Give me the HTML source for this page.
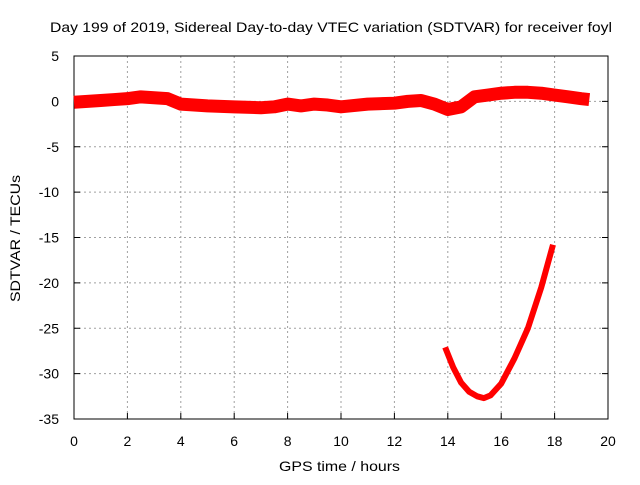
<!DOCTYPE html>
<html><head><meta charset="utf-8"><style>
body{margin:0;background:#fff;font-family:"Liberation Sans",sans-serif}
svg text{font-family:"Liberation Sans",sans-serif;font-size:14px;fill:#000}
</style></head><body>
<svg id="chart" width="640" height="480"></svg>
<script>
const bandTimes=[0,0.5,1,1.5,2,2.5,3,3.5,4,4.5,5,6,7,7.5,8,8.5,9,9.5,10,11,12,12.5,13,13.5,14,14.5,15,15.5,16,16.5,17,17.5,18,18.5,19,19.3];
const bandValues=[-0.1,0,0.1,0.2,0.3,0.5,0.4,0.3,-0.3,-0.4,-0.5,-0.6,-0.7,-0.6,-0.3,-0.5,-0.3,-0.4,-0.6,-0.3,-0.2,0,0.1,-0.3,-0.9,-0.6,0.5,0.7,0.9,1.0,1.0,0.9,0.7,0.5,0.3,0.2];
const curveTimes=[13.9,14.2,14.5,14.8,15.1,15.35,15.6,16,16.5,17,17.5,17.94];
const curveValues=[-27.1,-29.3,-31.0,-32.0,-32.5,-32.7,-32.4,-31.1,-28.3,-25.0,-20.5,-15.8];
const xTicks=[0,2,4,6,8,10,12,14,16,18,20];
const yTicks=[5,0,-5,-10,-15,-20,-25,-30,-35];
const NS="http://www.w3.org/2000/svg";
const svg=document.getElementById('chart');
const L=74,R=608,T=56,B=419;
const X=v=>L+(v-0)/20*(R-L);
const Y=v=>T+(5-v)/40*(B-T);
function mk(tag,attrs,parent){const e=document.createElementNS(NS,tag);for(const k in attrs)e.setAttribute(k,attrs[k]);(parent||svg).appendChild(e);return e;}
xTicks.forEach(t=>{if(t>0&&t<20){const g=mk('line',{x1:X(t),x2:X(t),y1:T,y2:B,stroke:'#a0a0a0','stroke-dasharray':'2,3'});

}
const tk=mk('line',{x1:X(t),x2:X(t),y1:B,y2:B-6,stroke:'#000'});


const lb=mk('text',{x:X(t),y:B+27,'text-anchor':'middle'});lb.textContent=t;

});
yTicks.forEach(t=>{if(t<5&&t>-35){const g=mk('line',{x1:L,x2:R,y1:Y(t),y2:Y(t),stroke:'#a0a0a0','stroke-dasharray':'2,3'});

}
const tk=mk('line',{x1:L,x2:L+6,y1:Y(t),y2:Y(t),stroke:'#000'});


const tk2=mk('line',{x1:R,x2:R-6,y1:Y(t),y2:Y(t),stroke:'#000'});


const lb=mk('text',{x:L-15,y:Y(t)+5,'text-anchor':'end'});lb.textContent=t;

});
const fr=mk('rect',{x:L,y:T,width:R-L,height:B-T,fill:'none',stroke:'#000'});


function pts(ts,vs){return ts.map((t,i)=>X(t)+','+Y(vs[i])).join(' ');}
const band=mk('polyline',{points:pts(bandTimes,bandValues),fill:'none',stroke:'#ff0000','stroke-width':13,'stroke-linejoin':'round'});


const curve=mk('polyline',{points:pts(curveTimes,curveValues),fill:'none',stroke:'#ff0000','stroke-width':6,'stroke-linejoin':'round'});


const title=mk('text',{x:50,y:32,textLength:562,lengthAdjust:'spacingAndGlyphs','font-size':15});title.textContent='Day 199 of 2019, Sidereal Day-to-day VTEC variation (SDTVAR) for receiver foyl';


const xt=mk('text',{x:279,y:471,textLength:121,lengthAdjust:'spacingAndGlyphs','font-size':15});xt.textContent='GPS time / hours';


const yt=mk('text',{x:0,y:0,textLength:127,lengthAdjust:'spacingAndGlyphs','font-size':15,transform:'translate(20 302) rotate(-90)'});yt.textContent='SDTVAR / TECUs';


</script>
</body></html>
